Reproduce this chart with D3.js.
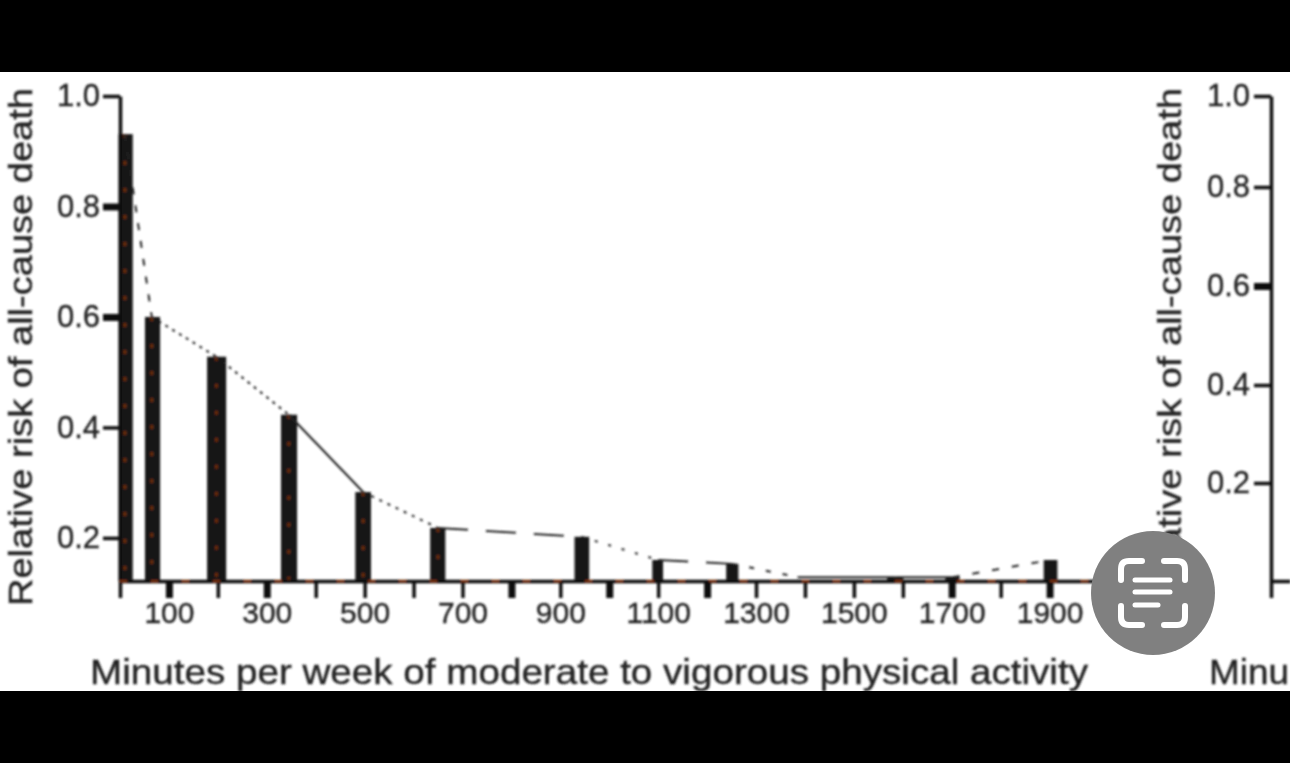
<!DOCTYPE html>
<html>
<head>
<meta charset="utf-8">
<script src="https://cdn.jsdelivr.net/npm/d3@7"></script>
<style>
  html, body { margin: 0; padding: 0; background: #000; }
  svg { display: block; }
  text { font-family: "Liberation Sans", Arial, sans-serif; fill: #222; stroke: #222; stroke-width: 0.35px; }
</style>
</head>
<body>
<div id="chart"></div>
<script>
  // bars: bin edges in minutes per week, and relative risk at the top of each
  const binStart = [0, 51, 178, 329, 481, 634, 929, 1088, 1239, 1568, 1687, 1888];
  const binEnd = [26, 82, 217, 362, 513, 665, 959, 1110, 1264, 1601, 1716, 1916];
  const barRisk = [0.931, 0.600, 0.528, 0.423, 0.283, 0.218, 0.202, 0.160, 0.153, 0.129, 0.129, 0.160];

  // dashed trend line over the bars
  const lineMinutes = [10, 65, 197, 345, 497, 650, 943, 1100, 1252, 1385, 1585, 1702, 1902];
  const lineRisk = [0.931, 0.600, 0.528, 0.423, 0.283, 0.218, 0.202, 0.160, 0.153, 0.129, 0.129, 0.129, 0.160];

  const yTicks = [0.2, 0.4, 0.6, 0.8, 1.0];
  const xTicks = d3.range(0, 2000, 100);
  const xTickLabels = [100, 300, 500, 700, 900, 1100, 1300, 1500, 1700, 1900];
  const xLabel = 'Minutes per week of moderate to vigorous physical activity';
  const xLabelRight = 'Minu';
  const yLabel = 'Relative risk of all-cause death';

  // ticks that came out heavier in the scan
  const heavyXTicks = [100, 300, 800, 1000, 1200, 1700, 1900];
  const heavyYTicksLeft = [0.8, 0.6];
  const heavyYTicksRight = [0.6];
  // dash pattern of each line segment, they differ in the reference
  const segmentDash = ['7 11', '3 5', '3 5', 'none', '3 6', '30 18', '3 11', '30 18', '5 12', 'none', 'none', '7 13'];

  let width = 1290, height = 763;

  let root = d3.select('#chart').append('svg')
    .attr('width', width)
    .attr('height', height);

  root.append('defs').append('filter')
    .attr('id', 'soft')
    .attr('filterUnits', 'userSpaceOnUse')
    .attr('x', -20).attr('y', 0)
    .attr('width', width + 40).attr('height', height)
    .append('feGaussianBlur')
    .attr('stdDeviation', 0.8);

  // white page goes under the blurred group so the edges stay clean
  root.append('rect')
    .attr('x', 0).attr('y', 72)
    .attr('width', width).attr('height', 619)
    .attr('fill', '#fff');

  let svg = root.append('g').attr('filter', 'url(#soft)');

  // ---- left panel
  let x = d3.scaleLinear().domain([0, 2000]).range([120, 1098.5]);
  let y = d3.scaleLinear().domain([0.122, 1]).range([581, 96]);

  svg.selectAll('.bar')
    .data(barRisk)
    .enter()
    .append('rect')
    .attr('class', 'bar')
    .attr('fill', '#161616')
    .attr('x', (d, i) => x(binStart[i]) - (i === 0 ? 1.5 : 0))
    .attr('y', (d) => y(d))
    .attr('width', (d, i) => x(binEnd[i]) - x(binStart[i]) + (i === 0 ? 1.5 : 0))
    .attr('height', (d) => y.range()[0] - y(d));

  // rust coloured specks inside the bars
  svg.selectAll('.speck')
    .data(barRisk.slice(0, 6))
    .enter()
    .append('line')
    .attr('class', 'speck')
    .attr('x1', (d, i) => x(lineMinutes[i]))
    .attr('x2', (d, i) => x(lineMinutes[i]))
    .attr('y1', (d) => y(d))
    .attr('y2', y.range()[0])
    .attr('stroke', '#6b2a10')
    .attr('stroke-width', 3)
    .attr('stroke-dasharray', '4 23');

  let points = lineMinutes.map((m, i) => [x(m), y(lineRisk[i])]);
  svg.selectAll('.seg')
    .data(d3.pairs(points))
    .enter()
    .append('path')
    .attr('class', 'seg')
    .attr('d', (d) => d3.line()(d))
    .attr('fill', 'none')
    .attr('stroke', '#222')
    .attr('stroke-width', 2)
    .attr('stroke-dasharray', (d, i) => segmentDash[i]);

  function styleAxis(g, heavy, fontSize) {
    g.selectAll('path.domain').attr('stroke', '#111').attr('stroke-width', 3.5);
    g.selectAll('.tick line')
      .attr('stroke', '#111')
      .attr('stroke-width', (d) => heavy.includes(d) ? 7 : 3.5);
    g.selectAll('.tick text')
      .style('font-size', fontSize + 'px')
      .attr('fill', '#222');
  }

  let xAxis = d3.axisBottom(x)
    .tickValues(xTicks)
    .tickSize(17)
    .tickSizeOuter(0)
    .tickPadding(4)
    .tickFormat((d) => xTickLabels.includes(d) ? d : '');

  svg.append('g')
    .attr('class', 'x axis')
    .attr('transform', 'translate(0,' + y.range()[0] + ')')
    .call(xAxis)
    .call(styleAxis, heavyXTicks, 30);

  let yAxisLeft = d3.axisLeft(y)
    .tickValues(yTicks)
    .tickSize(17)
    .tickSizeOuter(0)
    .tickPadding(3)
    .tickFormat(d3.format('.1f'));

  svg.append('g')
    .attr('class', 'y axis')
    .attr('transform', 'translate(' + x.range()[0] + ',0)')
    .call(yAxisLeft)
    .call(styleAxis, heavyYTicksLeft, 31);

  // baseline has rust flecks along it
  svg.append('line')
    .attr('x1', x.range()[0]).attr('x2', x.range()[1])
    .attr('y1', y.range()[0]).attr('y2', y.range()[0])
    .attr('stroke', '#7a3210')
    .attr('stroke-width', 2)
    .attr('stroke-dasharray', '7 24');

  svg.append('text')
    .attr('x', 90)
    .attr('y', 684)
    .attr('textLength', 998)
    .attr('lengthAdjust', 'spacingAndGlyphs')
    .style('font-size', '35px')
    .text(xLabel);

  svg.append('text')
    .attr('transform', 'translate(32,606) rotate(-90)')
    .attr('textLength', 518)
    .attr('lengthAdjust', 'spacingAndGlyphs')
    .style('font-size', '34px')
    .text(yLabel);

  // ---- right panel, cut off by the edge of the screenshot
  // its ticks are not evenly spaced in the picture, hence the piecewise range
  let y2 = d3.scaleLinear().domain([0, 0.2, 0.4, 0.6, 0.8, 1]).range([581, 483, 385, 286, 187, 96]);
  let x2 = d3.scaleLinear().domain([0, 40]).range([1271, width]);

  let yAxisRight = d3.axisLeft(y2)
    .tickValues(yTicks)
    .tickSize(17)
    .tickSizeOuter(0)
    .tickPadding(4)
    .tickFormat(d3.format('.1f'));

  svg.append('g')
    .attr('class', 'y axis right')
    .attr('transform', 'translate(' + x2.range()[0] + ',0)')
    .call(yAxisRight)
    .call(styleAxis, heavyYTicksRight, 31);

  svg.append('g')
    .attr('class', 'x axis right')
    .attr('transform', 'translate(0,581)')
    .call(d3.axisBottom(x2).tickValues([0]).tickSize(17).tickSizeOuter(0).tickFormat(''))
    .call(styleAxis, [], 30);

  svg.append('text')
    .attr('transform', 'translate(1181,606) rotate(-90)')
    .attr('textLength', 518)
    .attr('lengthAdjust', 'spacingAndGlyphs')
    .style('font-size', '34px')
    .text(yLabel);

  svg.append('text')
    .attr('x', 1209)
    .attr('y', 684)
    .attr('textLength', 80)
    .attr('lengthAdjust', 'spacingAndGlyphs')
    .style('font-size', '35px')
    .text(xLabelRight);

  // screen-scan button sitting on top of the screenshot
  let badge = root.append('g').attr('transform', 'translate(1153,593)');
  badge.append('circle').attr('r', 62).attr('fill', '#808080');
  let icon = badge.append('g')
    .attr('fill', 'none')
    .attr('stroke', '#fff')
    .attr('stroke-width', 6)
    .attr('stroke-linecap', 'round');
  [[-1, -1], [1, -1], [-1, 1], [1, 1]].forEach(([sx, sy]) => {
    icon.append('path')
      .attr('d', 'M' + sx * 32 + ',' + sy * 13 + 'V' + sy * 24
        + 'Q' + sx * 32 + ',' + sy * 32 + ' ' + sx * 24 + ',' + sy * 32 + 'H' + sx * 11);
  });
  [[-18, 17, -13], [-18, 17, -1], [-18, 5, 12]].forEach(([a, b, ly]) => {
    icon.append('line')
      .attr('x1', a).attr('x2', b)
      .attr('y1', ly).attr('y2', ly)
      .attr('stroke-width', 5);
  });

  // black bands above and below the screenshot
  root.append('rect').attr('x', 0).attr('y', 0).attr('width', width).attr('height', 72).attr('fill', '#000');
  root.append('rect').attr('x', 0).attr('y', 691).attr('width', width).attr('height', 72).attr('fill', '#000');
</script>
</body>
</html>
